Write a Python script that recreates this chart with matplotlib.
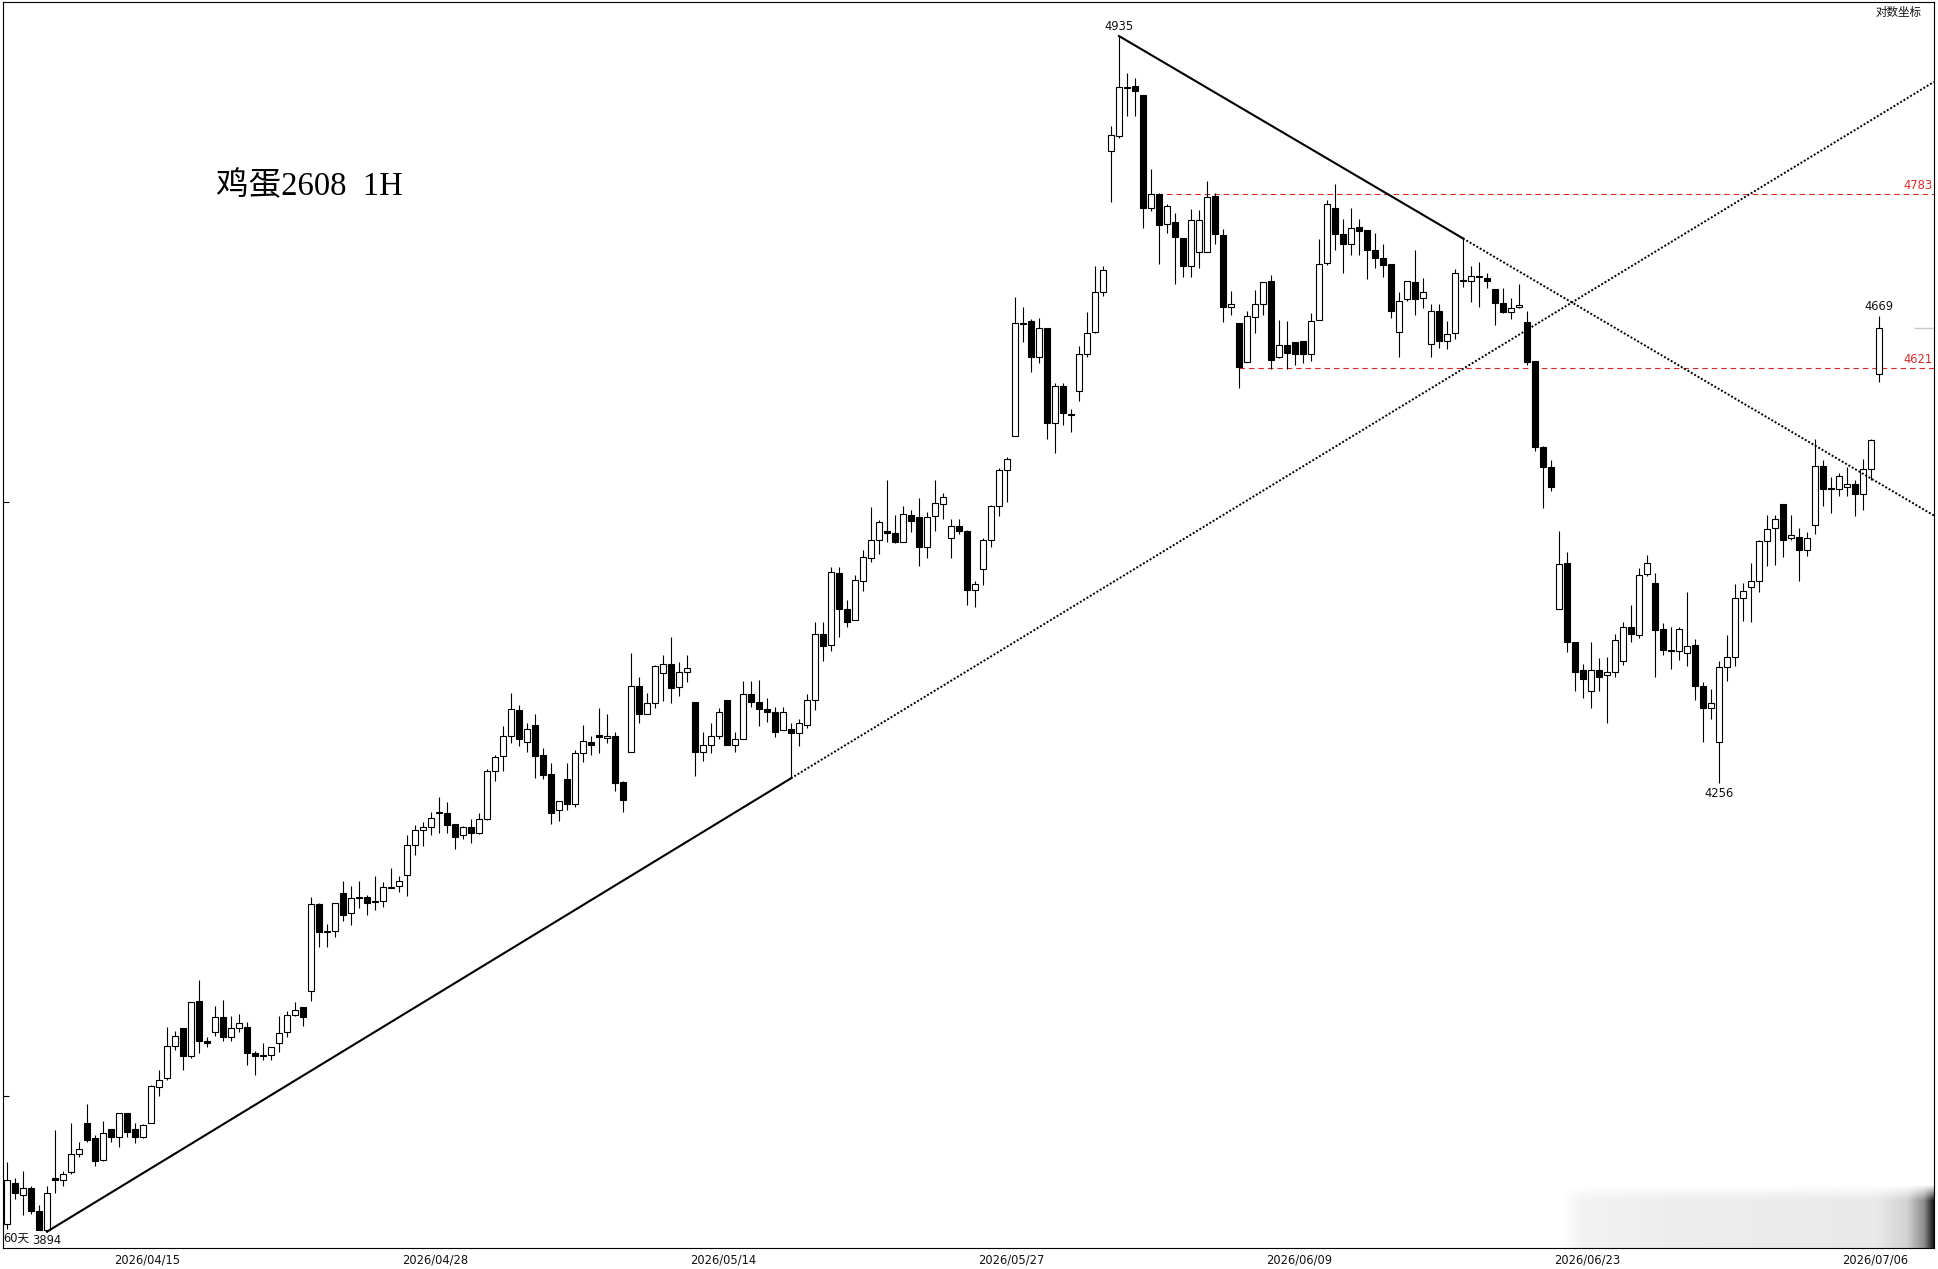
import numpy as np
import matplotlib.pyplot as plt

# hourly bars, egg futures 2608
opens = [3900, 3932, 3922, 3928, 3910, 3895, 3936, 3934, 3940, 3954,
         3979, 3967, 3950, 3974, 3968, 3987, 3974, 3968, 3979, 4007,
         4014, 4040, 4054, 4032, 4076, 4044, 4051, 4063, 4047, 4054,
         4055, 4034, 4033, 4033, 4042, 4051, 4065, 4071, 4084, 4155,
         4133, 4133, 4164, 4148, 4161, 4161, 4157, 4158, 4168, 4170,
         4179, 4204, 4217, 4219, 4231, 4231, 4222, 4212, 4219, 4214,
         4226, 4266, 4279, 4296, 4318, 4291, 4305, 4280, 4264, 4233,
         4259, 4238, 4281, 4291, 4297, 4294, 4296, 4257, 4282, 4339,
         4315, 4324, 4350, 4358, 4338, 4351, 4325, 4282, 4288, 4296,
         4327, 4288, 4293, 4332, 4325, 4319, 4316, 4301, 4302, 4298,
         4305, 4327, 4384, 4374, 4437, 4405, 4396, 4430, 4450, 4466,
         4474, 4472, 4464, 4488, 4486, 4460, 4487, 4498, 4468, 4478,
         4474, 4422, 4440, 4466, 4496, 4528, 4559, 4662, 4664, 4631,
         4658, 4571, 4604, 4578, 4600, 4634, 4654, 4691, 4824, 4838,
         4885, 4886, 4878, 4770, 4783, 4755, 4756, 4741, 4715, 4728,
         4728, 4781, 4744, 4677, 4662, 4626, 4668, 4680, 4701, 4631,
         4642, 4645, 4646, 4634, 4665, 4718, 4770, 4745, 4736, 4752,
         4749, 4730, 4723, 4717, 4654, 4684, 4700, 4685, 4643, 4673,
         4646, 4653, 4702, 4701, 4706, 4704, 4694, 4681, 4672, 4677,
         4663, 4627, 4549, 4531, 4405, 4446, 4377, 4352, 4334, 4352,
         4348, 4351, 4360, 4390, 4383, 4436, 4428, 4388, 4370, 4369,
         4367, 4374, 4339, 4320, 4291, 4355, 4364, 4415, 4425, 4430,
         4465, 4477, 4498, 4468, 4469, 4457, 4479, 4532, 4512, 4511,
         4513, 4516, 4507, 4529, 4615]
highs = [3948, 3936, 3941, 3929, 3915, 3929, 3973, 3941, 3979, 3964,
         3994, 3969, 3980, 3974, 3987, 3987, 3979, 3978, 4009, 4021,
         4055, 4052, 4054, 4075, 4093, 4047, 4072, 4077, 4064, 4066,
         4059, 4036, 4042, 4039, 4064, 4068, 4075, 4071, 4161, 4156,
         4139, 4156, 4174, 4170, 4174, 4163, 4178, 4173, 4185, 4178,
         4212, 4221, 4223, 4232, 4244, 4240, 4222, 4220, 4226, 4231,
         4268, 4280, 4304, 4333, 4322, 4307, 4315, 4286, 4273, 4241,
         4273, 4284, 4305, 4296, 4320, 4315, 4299, 4258, 4367, 4346,
         4333, 4357, 4365, 4381, 4359, 4365, 4325, 4299, 4307, 4320,
         4327, 4299, 4343, 4343, 4344, 4328, 4321, 4321, 4307, 4310,
         4332, 4394, 4394, 4442, 4442, 4413, 4435, 4457, 4495, 4484,
         4519, 4488, 4496, 4493, 4503, 4491, 4519, 4508, 4485, 4485,
         4475, 4430, 4468, 4497, 4530, 4540, 4686, 4677, 4666, 4667,
         4658, 4607, 4607, 4583, 4641, 4672, 4715, 4715, 4848, 4935,
         4899, 4894, 4878, 4807, 4784, 4773, 4765, 4741, 4769, 4768,
         4795, 4784, 4750, 4692, 4662, 4673, 4693, 4700, 4707, 4665,
         4664, 4645, 4646, 4671, 4740, 4777, 4792, 4759, 4770, 4759,
         4749, 4746, 4736, 4717, 4691, 4701, 4730, 4704, 4680, 4680,
         4664, 4712, 4741, 4715, 4719, 4709, 4694, 4695, 4685, 4698,
         4673, 4627, 4550, 4537, 4474, 4455, 4377, 4358, 4377, 4363,
         4364, 4384, 4394, 4409, 4441, 4453, 4437, 4393, 4390, 4390,
         4420, 4379, 4342, 4336, 4360, 4383, 4427, 4428, 4446, 4466,
         4488, 4488, 4498, 4488, 4477, 4473, 4556, 4537, 4522, 4526,
         4531, 4519, 4538, 4556, 4669]
lows = [3896, 3919, 3907, 3908, 3895, 3894, 3924, 3929, 3939, 3952,
        3964, 3945, 3949, 3964, 3960, 3968, 3963, 3967, 3979, 4000,
        4013, 4037, 4021, 4030, 4034, 4039, 4048, 4044, 4044, 4051,
        4025, 4017, 4029, 4029, 4035, 4047, 4064, 4056, 4076, 4120,
        4120, 4128, 4141, 4138, 4152, 4146, 4150, 4153, 4168, 4165,
        4162, 4196, 4203, 4212, 4214, 4214, 4201, 4209, 4206, 4213,
        4225, 4258, 4266, 4290, 4287, 4282, 4260, 4259, 4222, 4224,
        4233, 4236, 4274, 4280, 4281, 4290, 4249, 4232, 4282, 4307,
        4315, 4320, 4326, 4324, 4330, 4342, 4262, 4275, 4281, 4293,
        4288, 4282, 4293, 4321, 4304, 4308, 4295, 4301, 4260, 4287,
        4303, 4318, 4360, 4369, 4381, 4390, 4396, 4421, 4447, 4454,
        4464, 4463, 4464, 4473, 4443, 4450, 4474, 4485, 4450, 4471,
        4409, 4407, 4426, 4460, 4487, 4500, 4559, 4645, 4617, 4625,
        4556, 4544, 4569, 4563, 4591, 4631, 4653, 4687, 4775, 4836,
        4857, 4857, 4751, 4767, 4717, 4746, 4698, 4705, 4705, 4713,
        4728, 4736, 4663, 4670, 4603, 4626, 4653, 4670, 4620, 4630,
        4620, 4624, 4625, 4627, 4665, 4716, 4730, 4709, 4725, 4725,
        4703, 4713, 4705, 4667, 4631, 4683, 4670, 4676, 4631, 4639,
        4638, 4647, 4696, 4682, 4677, 4695, 4660, 4671, 4666, 4676,
        4624, 4545, 4494, 4510, 4405, 4368, 4334, 4328, 4320, 4334,
        4307, 4346, 4357, 4377, 4380, 4434, 4346, 4365, 4353, 4361,
        4356, 4327, 4291, 4310, 4256, 4343, 4356, 4395, 4394, 4420,
        4443, 4444, 4451, 4466, 4430, 4452, 4471, 4496, 4490, 4505,
        4505, 4487, 4493, 4519, 4608]
closes = [3934, 3924, 3928, 3910, 3895, 3924, 3934, 3939, 3954, 3958,
          3965, 3949, 3971, 3968, 3987, 3972, 3968, 3977, 4008, 4013,
          4040, 4048, 4032, 4075, 4044, 4042, 4063, 4047, 4054, 4058,
          4034, 4032, 4032, 4039, 4050, 4065, 4069, 4063, 4155, 4132,
          4132, 4156, 4146, 4160, 4160, 4156, 4158, 4169, 4169, 4174,
          4204, 4217, 4219, 4227, 4232, 4221, 4211, 4219, 4214, 4226,
          4266, 4278, 4296, 4319, 4293, 4302, 4279, 4263, 4231, 4241,
          4238, 4281, 4292, 4288, 4295, 4296, 4256, 4242, 4339, 4315,
          4324, 4356, 4358, 4337, 4351, 4354, 4282, 4288, 4296, 4316,
          4288, 4293, 4332, 4325, 4319, 4316, 4299, 4316, 4298, 4307,
          4327, 4384, 4373, 4438, 4405, 4394, 4431, 4451, 4466, 4482,
          4472, 4464, 4489, 4483, 4460, 4486, 4499, 4504, 4478, 4474,
          4422, 4427, 4466, 4496, 4528, 4538, 4662, 4661, 4631, 4658,
          4571, 4604, 4580, 4579, 4634, 4653, 4691, 4711, 4839, 4885,
          4884, 4882, 4770, 4783, 4754, 4772, 4742, 4715, 4758, 4758,
          4780, 4745, 4677, 4680, 4622, 4669, 4680, 4700, 4628, 4642,
          4635, 4634, 4634, 4664, 4717, 4773, 4745, 4736, 4751, 4748,
          4730, 4723, 4716, 4673, 4683, 4701, 4684, 4691, 4673, 4646,
          4652, 4709, 4701, 4706, 4705, 4701, 4681, 4672, 4676, 4679,
          4626, 4549, 4531, 4513, 4445, 4377, 4351, 4345, 4352, 4346,
          4351, 4378, 4390, 4384, 4435, 4446, 4387, 4370, 4369, 4388,
          4373, 4339, 4320, 4324, 4355, 4364, 4415, 4421, 4430, 4465,
          4476, 4485, 4466, 4470, 4457, 4468, 4532, 4511, 4511, 4523,
          4516, 4507, 4529, 4555, 4658]

date_labels = ['2026/04/15', '2026/04/28', '2026/05/14', '2026/05/27',
               '2026/06/09', '2026/06/23', '2026/07/06']
levels = [4783, 4621]          # red support / resistance
level_start = [143.7, 154]
up_anchor = [5, 98]            # rising trendline through these lows
down_anchor = [139, 182]       # falling trendline through these highs
title = '鸡蛋2608  1H'

o = np.array(opens, float)
h = np.array(highs, float)
l = np.array(lows, float)
c = np.array(closes, float)
x = np.arange(len(o))

W, H = 1938, 1269
fig = plt.figure(figsize=(W / 100, H / 100), dpi=100)
ax = fig.add_axes([3 / W, 21 / H, 1931 / W, 1246 / H])
ax.set_yscale('log')
xmax = 240.875
ax.set_xlim(-0.5, xmax)
ax.set_ylim(3881.4, 4968.4)

# candles
ax.vlines(x, l, h, color='k', lw=0.8, zorder=2)
up = c >= o
ax.bar(x, np.abs(c - o), bottom=np.minimum(o, c), width=0.66,
       color=np.where(up, 'white', 'black'), edgecolor='k', linewidth=0.8, zorder=3)

# rising trendline (solid between anchors, dotted beyond)
i0, i1 = up_anchor
b = (np.log(l[i1]) - np.log(l[i0])) / (i1 - i0)
ax.plot([i0, i1], [l[i0], l[i1]], color='k', lw=1.5, zorder=4)
ax.plot([i1, xmax], [l[i1], np.exp(np.log(l[i1]) + b * (xmax - i1))],
        color='k', lw=1.4, ls=(0, (1, 1)), zorder=4)

# falling trendline
j0, j1 = down_anchor
b2 = (np.log(h[j1]) - np.log(h[j0])) / (j1 - j0)
ax.plot([j0, j1], [h[j0], h[j1]], color='k', lw=1.5, zorder=4)
ax.plot([j1, xmax], [h[j1], np.exp(np.log(h[j1]) + b2 * (xmax - j1))],
        color='k', lw=1.4, ls=(0, (1, 1)), zorder=4)

# horizontal levels
for lev, st in zip(levels, level_start):
    ax.plot([st, xmax], [lev, lev], color='#d42a2a', lw=0.8, ls=(0, (5, 3.5)), zorder=1)
    ax.annotate(str(lev), xy=(1, lev), xycoords=('axes fraction', 'data'),
                xytext=(-1, 1.5), textcoords='offset points', ha='right', va='bottom',
                color='#d42a2a', fontsize=8.3)

# last price marker
ax.hlines(c[-1], 238.4, 240.8, color='#c8c8c8', lw=1, zorder=1)

# high / low labels
txtc = '#111111'
lab = dict(fontsize=8.3, color=txtc, textcoords='offset points', ha='center')
ax.annotate(f'{h.max():.0f}', xy=(h.argmax(), h.max()), xytext=(0, 2), va='bottom', **lab)
ax.annotate(f'{l.min():.0f}', xy=(l.argmin(), l.min()), xytext=(0, -2), va='top', **lab)
k = 214
ax.annotate(f'{l[k]:.0f}', xy=(k, l[k]), xytext=(0, -2.5), va='top', **lab)
ax.annotate(f'{h[-1]:.0f}', xy=(x[-1], h[-1]), xytext=(0, 2), va='bottom', **lab)
ax.annotate('60天', xy=(0, 0), xycoords='axes fraction', xytext=(0, 2),
            textcoords='offset points', ha='left', va='bottom', fontsize=8.3,
            color=txtc, family=['DejaVu Sans', 'Noto Sans CJK SC'])

# faint blurred watermark strip at the lower right of the screenshot
gx = np.linspace(0, 1, 300)
gy = np.linspace(0, 1, 40)
ax_alpha = np.interp(gx, [0, 0.06, 0.25, 0.85, 0.93, 0.975, 1.0],
                     [0, 0.05, 0.07, 0.09, 0.18, 0.45, 0.9])
ay_alpha = np.interp(gy, [0, 0.25, 1.0], [0, 1, 1])
rgba = np.zeros((40, 300, 4))
rgba[..., 3] = ay_alpha[:, None] * ax_alpha[None, :]
ax.imshow(rgba, extent=(0.806, 1.0, 0.0, 0.0506), transform=ax.transAxes,
          origin='upper', aspect='auto', interpolation='bilinear', zorder=0.5)
ax.set_xlim(-0.5, xmax)
ax.set_ylim(3881.4, 4968.4)

# axes styling
ax.set_xticks(17.5 + 36 * np.arange(len(date_labels)))
ax.set_xticklabels(date_labels, fontsize=8.3, color=txtc)
ax.tick_params(axis='x', length=0, pad=4)
ax.set_yticks([4000, 4500])
ax.set_yticks([], minor=True)
ax.yaxis.set_major_formatter(plt.NullFormatter())
ax.tick_params(axis='y', direction='in', length=4, width=0.8)
for s in ax.spines.values():
    s.set_linewidth(0.8)

fig.text(216 / W, 1 - 187 / H, title, fontsize=23.5, va='center', ha='left',
         family=['Liberation Serif', 'Noto Sans CJK SC'])
fig.text(1922 / W, 1 - 12 / H, '对数坐标', fontsize=8.3, va='center', ha='right',
         color=txtc, family=['Noto Sans CJK SC', 'DejaVu Sans'])

fig.savefig('out.png', dpi=100)
